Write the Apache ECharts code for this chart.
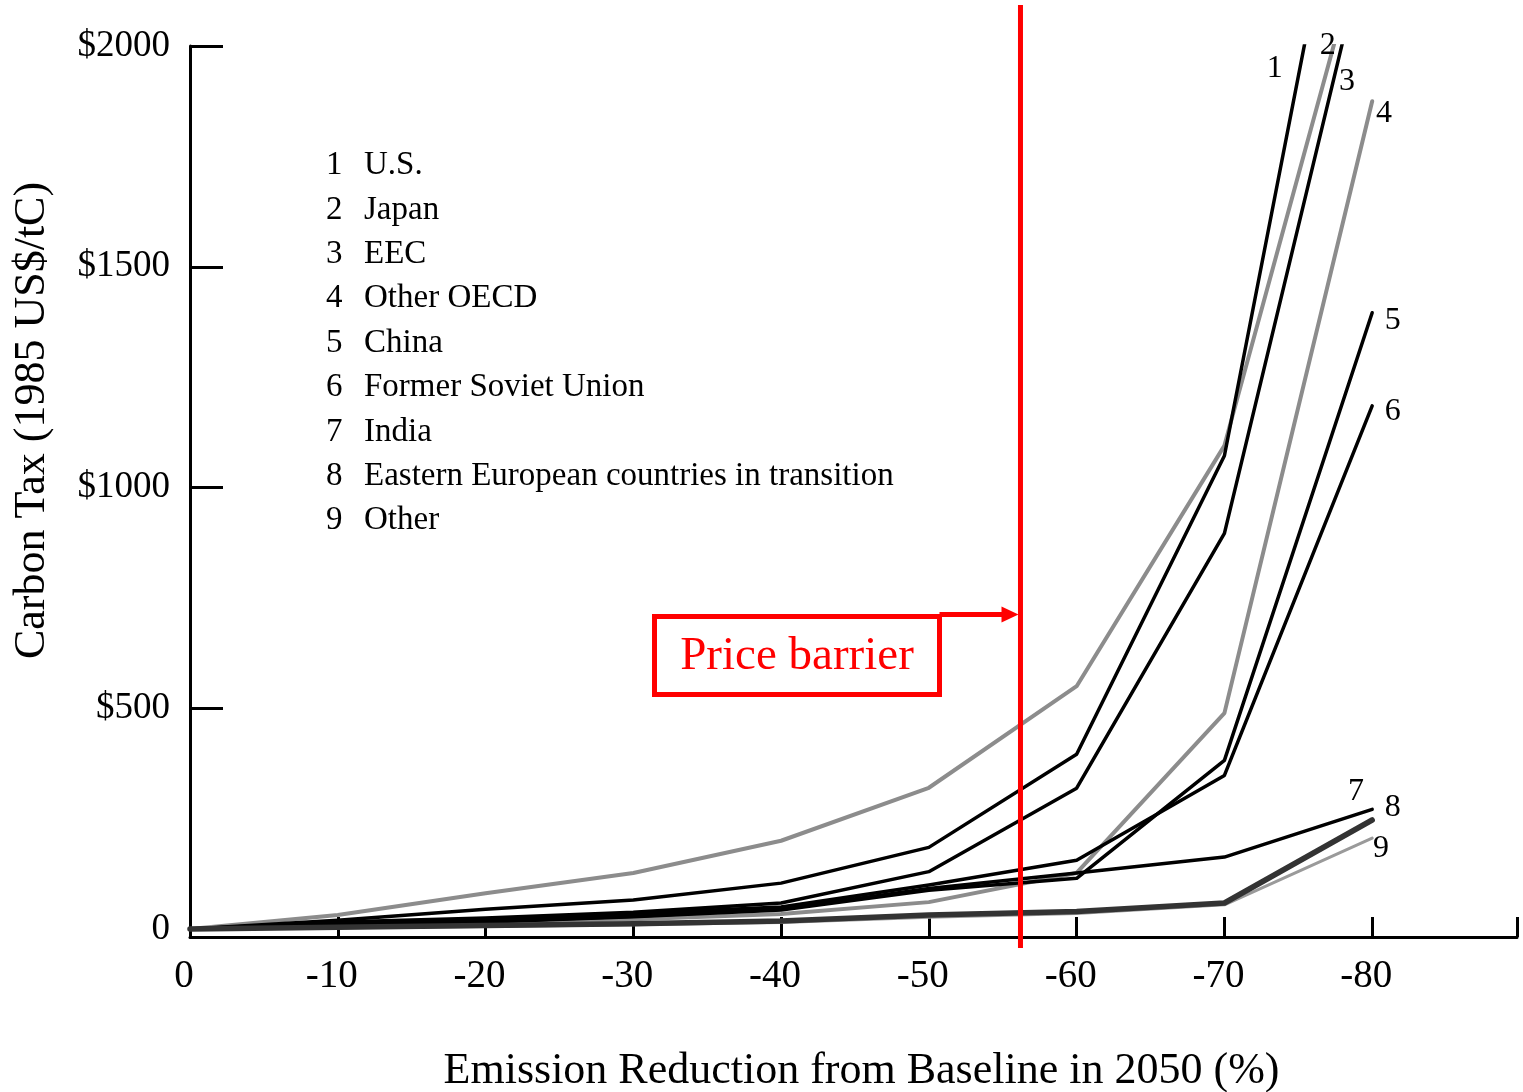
<!DOCTYPE html>
<html>
<head>
<meta charset="utf-8">
<title>Carbon Tax vs Emission Reduction</title>
<script src="https://cdn.jsdelivr.net/npm/echarts@6/dist/echarts.min.js"></script>
<style>
  html, body { margin: 0; padding: 0; background: #ffffff; }
  #chart { width: 1523px; height: 1092px; }
</style>
</head>
<body>
<div id="chart"></div>
<script>
// Emission reduction from baseline in 2050 (%)
const reductions = [0, -10, -20, -30, -40, -50, -60, -70, -80];
const xTickLabels = [0, -10, -20, -30, -40, -50, -60, -70, -80];
const yTickLabels = [0, 500, 1000, 1500, 2000];

// Regions, numbered as in the key
const regionNumbers = ['1', '2', '3', '4', '5', '6', '7', '8', '9'];
const regionNames = ['U.S.', 'Japan', 'EEC', 'Other OECD', 'China', 'Former Soviet Union', 'India',
  'Eastern European countries in transition', 'Other'];

// Carbon tax (1985 US$/tC) required for each reduction level
const usTax          = [0, 20, 45, 66, 104, 185, 396, 1072, 2790];
const japanTax       = [0, 32, 81, 127, 200, 320, 550, 1095, 2320];
const eecTax         = [0, 16, 25, 38, 59, 130, 319, 896, 2287];
const otherOecdTax   = [0, 7, 14, 22, 34, 61, 127, 489, 1875];
const chinaTax       = [0, 8, 16, 28, 43, 88, 115, 382, 1396];
const fsuTax         = [0, 10, 22, 35, 50, 100, 156, 348, 1185];
const indiaTax       = [0, 8, 17, 29, 45, 92, 127, 163, 271];
const eastEuropeTax  = [0, 4, 8, 12, 18, 32, 40, 59, 247];
const otherTax       = [0, 3, 6, 10, 15, 27, 35, 55, 206];

// Curve number tags placed near the end of each curve [reduction, tax]
const tagPositions = [[-73.4, 1948], [-77.0, 2000], [-78.3, 1920], [-80.8, 1848],
  [-81.4, 1378], [-81.4, 1172], [-78.9, 312], [-81.4, 274], [-80.6, 183]];

// Price barrier annotation
const priceBarrier = -56.2;
const priceBarrierText = 'Price barrier';

const serif = "'Liberation Serif', 'Times New Roman', 'DejaVu Serif', serif";
const taxSeries = [usTax, japanTax, eecTax, otherOecdTax, chinaTax, fsuTax, indiaTax, eastEuropeTax, otherTax];
const lineLooks = [
  { color: '#000000', width: 3.5 },
  { color: '#8c8c8c', width: 4 },
  { color: '#000000', width: 3.5 },
  { color: '#8c8c8c', width: 4 },
  { color: '#000000', width: 3.5 },
  { color: '#000000', width: 3.5 },
  { color: '#000000', width: 3.5 },
  { color: '#333333', width: 5.5 },
  { color: '#9a9a9a', width: 3 }
];

const chart = echarts.init(document.getElementById('chart'), null, { renderer: 'canvas' });

const series = taxSeries.map((vals, i) => ({
  name: regionNames[i],
  type: 'line',
  data: reductions.map((r, j) => [r, vals[j]]),
  symbol: 'none',
  smooth: false,
  clip: true,
  z: i === 1 || i === 3 || i === 8 ? 3 : 4,
  lineStyle: { color: lineLooks[i].color, width: lineLooks[i].width, cap: 'round', join: 'round' },
  emphasis: { disabled: true }
}));

chart.setOption({
  animation: false,
  backgroundColor: '#ffffff',
  grid: { left: 190, right: 6, top: 46, bottom: 155, containLabel: false, outerBoundsMode: 'none' },
  xAxis: {
    type: 'value',
    inverse: true,
    min: -89.8,
    max: 0,
    name: 'Emission Reduction from Baseline in 2050 (%)',
    nameLocation: 'middle',
    nameGap: 112,
    nameTextStyle: { fontFamily: serif, fontSize: 44, color: '#000', padding: [0, 0, 0, 16] },
    axisLine: { show: true, onZero: false, lineStyle: { color: '#000', width: 3 } },
    axisTick: { show: true, inside: true, length: 20, lineStyle: { color: '#000', width: 3 },
      customValues: xTickLabels.concat([-89.8]) },
    axisLabel: { show: true, customValues: xTickLabels, margin: 20, fontFamily: serif, fontSize: 39, color: '#000',
      padding: [0, 12, 0, 0], formatter: v => String(v) },
    splitLine: { show: false }
  },
  yAxis: {
    type: 'value',
    min: -18,
    max: 2000,
    name: 'Carbon Tax (1985 US$/tC)',
    nameLocation: 'middle',
    nameGap: 136,
    nameRotate: 90,
    nameTextStyle: { fontFamily: serif, fontSize: 44, color: '#000', padding: [0, 0, 0, 142] },
    axisLine: { show: true, onZero: false, lineStyle: { color: '#000', width: 3 } },
    axisTick: { show: true, inside: true, length: 33, lineStyle: { color: '#000', width: 3 },
      customValues: yTickLabels.filter(v => v > 0) },
    axisLabel: { show: true, customValues: yTickLabels, margin: 20, fontFamily: serif, fontSize: 37, color: '#000',
      formatter: v => (v === 0 ? '0' : '$' + v) },
    splitLine: { show: false }
  },
  series: series
});

// Key, curve tags and price barrier annotation
function drawAnnotations() {
  const els = [];
  regionNames.forEach((name, i) => {
    const y = 167 + i * 44.4;
    els.push({ type: 'text', left: 326, top: y - 18,
      style: { text: regionNumbers[i], font: '33px ' + serif, fill: '#000' }, silent: true });
    els.push({ type: 'text', left: 364, top: y - 18,
      style: { text: name, font: '33px ' + serif, fill: '#000' }, silent: true });
  });
  tagPositions.forEach((p, i) => {
    const px = chart.convertToPixel({ gridIndex: 0 }, p);
    els.push({ type: 'text', x: px[0], y: px[1],
      style: { text: regionNumbers[i], font: '32px ' + serif, fill: '#000', align: 'center', verticalAlign: 'middle' },
      silent: true, z: 10 });
  });
  const bx = chart.convertToPixel({ gridIndex: 0 }, [priceBarrier, 0])[0];
  els.push({ type: 'line', shape: { x1: bx, y1: 5, x2: bx, y2: 948 },
    style: { stroke: '#ff0000', lineWidth: 5 }, z: 20, silent: true });
  // boxed label with an arrow pointing at the barrier
  const boxL = 654.5, boxT = 616.5, boxR = 939.5, boxB = 694.5;
  els.push({ type: 'rect', shape: { x: boxL, y: boxT, width: boxR - boxL, height: boxB - boxT },
    style: { fill: '#ffffff', stroke: '#ff0000', lineWidth: 5 }, z: 20, silent: true });
  els.push({ type: 'text', x: (boxL + boxR) / 2, y: (boxT + boxB) / 2 + 1,
    style: { text: priceBarrierText, font: '47px ' + serif, fill: '#ff0000', align: 'center', verticalAlign: 'middle' },
    z: 21, silent: true });
  els.push({ type: 'line', shape: { x1: boxR, y1: boxT - 2, x2: bx - 16, y2: boxT - 2 },
    style: { stroke: '#ff0000', lineWidth: 5 }, z: 20, silent: true });
  els.push({ type: 'polygon', shape: { points: [[bx - 2, boxT - 2], [bx - 19, boxT - 10], [bx - 19, boxT + 6]] },
    style: { fill: '#ff0000' }, z: 20, silent: true });
  chart.setOption({ graphic: els });
}
drawAnnotations();
</script>
</body>
</html>
